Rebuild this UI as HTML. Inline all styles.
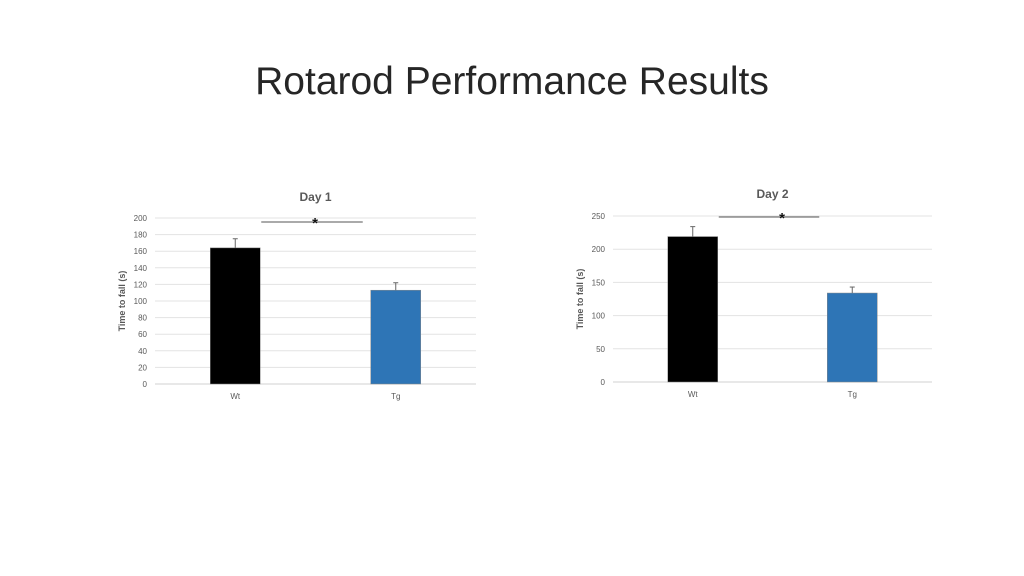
<!DOCTYPE html>
<html><head><meta charset="utf-8"><style>
body{margin:0;background:#fff;width:1024px;height:576px;overflow:hidden;font-family:"Liberation Sans",sans-serif}
#title{position:absolute;left:0;width:1024px;top:60px;text-align:center;font-size:39px;color:#262626}
svg{position:absolute;left:0;top:0}
</style></head><body>
<div id="title">Rotarod Performance Results</div>
<svg id="s" width="1024" height="576"></svg>
<script>
const categories=["Wt","Tg"];
const day1Values=[164,113];
const day1Errors=[11,9];
const day1Ticks=[0,20,40,60,80,100,120,140,160,180,200];
const day2Values=[219,134];
const day2Errors=[15,9];
const day2Ticks=[0,50,100,150,200,250];
const colors=["#000000","#2e75b6"];
const svg=document.getElementById('s');
const NS="http://www.w3.org/2000/svg";
function mk(t,a,txt,name){const e=document.createElementNS(NS,t);for(const k in a)e.setAttribute(k,a[k]);if(txt!==undefined)e.textContent=txt;


svg.appendChild(e);return e;}
function chart(o){
 const max=o.ticks[o.ticks.length-1];
 const y=v=>o.y0-(v/max)*(o.y0-o.yTop);
 const bw=(o.x1-o.x0)/categories.length;
 const xc=i=>o.x0+bw*(i+0.5);
 o.ticks.forEach(t=>{mk('line',{x1:o.x0,x2:o.x1,y1:y(t),y2:y(t),stroke:t===0?'#d0d0d0':'#e3e3e3','stroke-width':1},undefined,'gridline');
  mk('text',{x:o.x0-8,y:y(t)+3,'text-anchor':'end','font-size':8,fill:'#595959'},t,'y-tick-label');});
 o.values.forEach((v,i)=>{
  mk('rect',{x:xc(i)-25,y:y(v),width:50,height:y(0)-y(v),fill:colors[i],stroke:'#888','stroke-width':0.5},undefined,'bar-'+categories[i].toLowerCase());
  const e=v+o.errors[i];
  mk('line',{x1:xc(i),x2:xc(i),y1:y(v),y2:y(e),stroke:'#666','stroke-width':1},undefined,'error-bar');
  mk('line',{x1:xc(i)-2.5,x2:xc(i)+2.5,y1:y(e),y2:y(e),stroke:'#666','stroke-width':1},undefined,'error-cap');
  mk('text',{x:xc(i),y:o.y0+15,'text-anchor':'middle','font-size':8,fill:'#595959'},categories[i],'x-tick-label');
 });
 mk('text',{x:(o.x0+o.x1)/2,y:o.titleY,'text-anchor':'middle','font-size':12,'font-weight':'bold',fill:'#595959'},o.title,'chart-title');
 const ax=o.x0-30,ay=(o.y0+o.yTop)/2;
 mk('text',{x:ax,y:ay,'text-anchor':'middle','font-size':9,'font-weight':'bold',fill:'#595959',transform:`rotate(-90 ${ax} ${ay})`},'Time to fall (s)','y-axis-title');
 mk('line',{x1:xc(0)+26,x2:xc(1)-33,y1:o.sigY,y2:o.sigY,stroke:'#555','stroke-width':1},undefined,'significance-line');
 mk('text',{x:o.starX,y:o.sigY+6,'text-anchor':'middle','font-size':15,'font-weight':'bold',fill:'#111'},'*','significance-star');
}
chart({x0:155,x1:476,y0:384,yTop:218,ticks:day1Ticks,values:day1Values,errors:day1Errors,title:'Day 1',titleY:201,sigY:222,starX:315});
chart({x0:613,x1:932,y0:382,yTop:216,ticks:day2Ticks,values:day2Values,errors:day2Errors,title:'Day 2',titleY:198,sigY:217,starX:782});
</script>
</body></html>
